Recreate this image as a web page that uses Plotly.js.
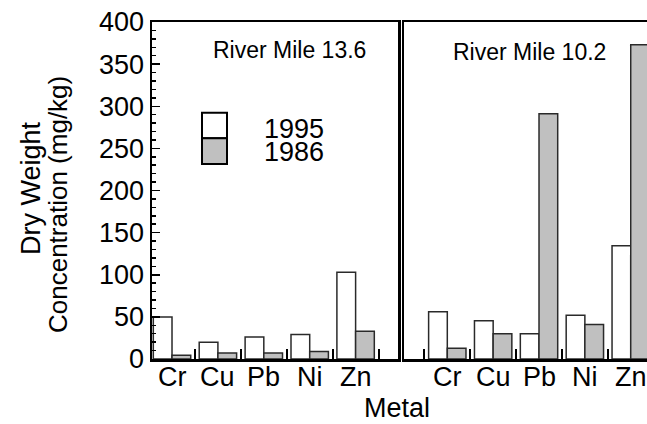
<!DOCTYPE html>
<html>
<head>
<meta charset="utf-8">
<script src="https://cdn.plot.ly/plotly-3.0.1.min.js"></script>
<style>html,body{margin:0;padding:0;background:#fff;}#chart{width:647px;height:424px;}</style>
</head>
<body>
<div id="chart"></div>
<script>
// Data
const metals = ['Cr', 'Cu', 'Pb', 'Ni', 'Zn'];
const rm136_1995 = [50, 20, 26, 29, 103];
const rm136_1986 = [4.5, 7, 7, 9, 33];
const rm102_1995 = [56, 45.5, 30, 52, 134.5];
const rm102_1986 = [12.7, 30, 291, 41, 373];
const years = ['1995', '1986'];
const panelTitles = ['River Mile 13.6', 'River Mile 10.2'];
const yTicks = [0, 50, 100, 150, 200, 250, 300, 350, 400];

const FONT = 'Liberation Sans, Arial, Helvetica, sans-serif';
const fill1995 = '#ffffff';
const fill1986 = '#c0c0c0';
const edge = '#2a2a2a';

function bar(y, name, color, xa, ya) {
  return {
    type: 'bar', x: metals, y: y, name: name, xaxis: xa, yaxis: ya,
    marker: {color: color, line: {color: edge, width: 1.5}},
    showlegend: false, hoverinfo: 'skip'
  };
}

const data = [
  bar(rm136_1995, years[0], fill1995, 'x', 'y'),
  bar(rm136_1986, years[1], fill1986, 'x', 'y'),
  bar(rm102_1995, years[0], fill1995, 'x2', 'y2'),
  bar(rm102_1986, years[1], fill1986, 'x2', 'y2')
];

const L = 152, W = 647 - L, B = 359, H = 337;
const px = v => (v - L) / W;
const py = v => (B - v) / H;

const xCommon = {
  type: 'category', tickson: 'boundaries', ticks: 'inside', ticklen: 10, tickwidth: 2,
  tickcolor: '#000', showline: true, linewidth: 2.5, linecolor: '#000', mirror: true,
  showgrid: false, zeroline: false, showticklabels: false, fixedrange: true
};

// category labels placed through the x axes' own category scales
const catLabels = [];
['x', 'x2'].forEach(function (xr) {
  metals.forEach(function (m) {
    catLabels.push({text: m, xref: xr, yref: 'paper', x: m, y: py(377), xanchor: 'center', yanchor: 'middle',
      showarrow: false, font: {family: FONT, size: 27, color: '#000'}});
  });
});

const layout = {
  width: 647, height: 424,
  margin: {l: L, r: 0, t: 22, b: 65, pad: 0},
  paper_bgcolor: '#fff', plot_bgcolor: '#fff',
  font: {family: FONT, color: '#000'},
  barmode: 'group', bargap: 0.185, bargroupgap: 0,
  showlegend: false,
  xaxis: Object.assign({}, xCommon, {domain: [0, px(398.2)], range: [-0.436, 4.928], anchor: 'y'}),
  xaxis2: Object.assign({}, xCommon, {domain: [px(404.2), 1], range: [-0.94, 4.355], anchor: 'y2'}),
  yaxis: {
    range: [0, 400], tickvals: yTicks, ticktext: yTicks.map(String), ticks: 'inside', ticklen: 8, tickwidth: 1.5,
    tickcolor: '#000', minor: {dtick: 10, ticks: 'inside', ticklen: 4, tickwidth: 1.5, tickcolor: '#000'},
    showline: true, linewidth: 2.5, linecolor: '#000', mirror: true, showgrid: false, zeroline: false,
    tickfont: {family: FONT, size: 27, color: '#000'}, ticklabelstandoff: 0, anchor: 'x', fixedrange: true
  },
  yaxis2: {
    range: [0, 400], matches: 'y', anchor: 'x2', showticklabels: false, ticks: '',
    showline: true, linewidth: 2.5, linecolor: '#000', mirror: false, showgrid: false, zeroline: false,
    fixedrange: true
  },
  shapes: [
    {type: 'rect', xref: 'paper', yref: 'paper', x0: px(202), x1: px(227), y0: py(138.3), y1: py(112.7),
     fillcolor: fill1995, line: {color: '#000', width: 2}},
    {type: 'rect', xref: 'paper', yref: 'paper', x0: px(202), x1: px(227), y0: py(164), y1: py(138.3),
     fillcolor: fill1986, line: {color: '#000', width: 2}}
  ],
  annotations: catLabels.concat([
    {text: years[0], xref: 'paper', yref: 'paper', x: px(262), y: py(128), xanchor: 'left', yanchor: 'middle',
     height: 21, showarrow: false, font: {family: FONT, size: 27, color: '#000'}},
    {text: years[1], xref: 'paper', yref: 'paper', x: px(262), y: py(151), xanchor: 'left', yanchor: 'middle',
     height: 21, showarrow: false, font: {family: FONT, size: 27, color: '#000'}},
    {text: panelTitles[0], xref: 'paper', yref: 'paper', x: px(289), y: py(50), xanchor: 'center', yanchor: 'middle',
     showarrow: false, font: {family: FONT, size: 23, color: '#000'}},
    {text: panelTitles[1], xref: 'paper', yref: 'paper', x: px(529), y: py(52), xanchor: 'center', yanchor: 'middle',
     showarrow: false, font: {family: FONT, size: 23, color: '#000'}},
    {text: 'Metal', xref: 'paper', yref: 'paper', x: px(397), y: py(408), xanchor: 'center', yanchor: 'middle',
     showarrow: false, font: {family: FONT, size: 27, color: '#000'}},
    {text: 'Dry Weight', xref: 'paper', yref: 'paper', x: px(31), y: py(188), xanchor: 'center', yanchor: 'middle',
     textangle: -90, showarrow: false, font: {family: FONT, size: 27, color: '#000'}},
    {text: 'Concentration (mg/kg)', xref: 'paper', yref: 'paper', x: px(58), y: py(205), xanchor: 'center', yanchor: 'middle',
     textangle: -90, showarrow: false, font: {family: FONT, size: 26, color: '#000'}}
  ])
};

Plotly.newPlot('chart', data, layout, {displayModeBar: false, staticPlot: true});
</script>
</body>
</html>
